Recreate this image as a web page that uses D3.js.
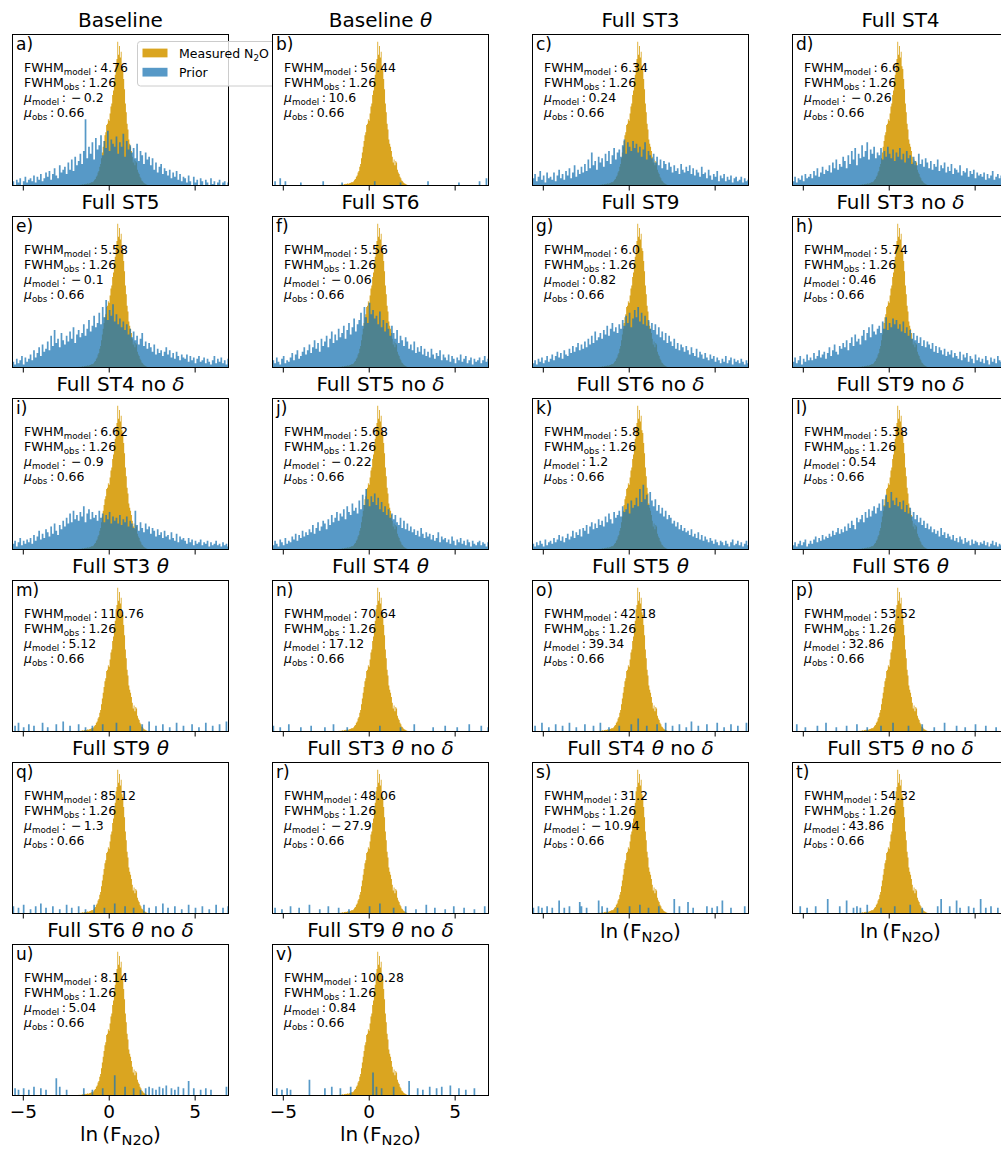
<!DOCTYPE html>
<html>
<head>
<meta charset="utf-8">
<script src="https://cdn.jsdelivr.net/npm/d3@7"></script>
<style>
  body { margin: 0; background: #fff; }
  svg { display: block; }
  text { font-family: "DejaVu Sans", sans-serif; fill: #000; }
</style>
</head>
<body>
<svg id="chart" width="1001" height="1149"></svg>
<script>
// ---- panel metadata ----
const panelTitles = ["Baseline", "Baseline θ", "Full ST3", "Full ST4",
  "Full ST5", "Full ST6", "Full ST9", "Full ST3 no δ",
  "Full ST4 no δ", "Full ST5 no δ", "Full ST6 no δ", "Full ST9 no δ",
  "Full ST3 θ", "Full ST4 θ", "Full ST5 θ", "Full ST6 θ",
  "Full ST9 θ", "Full ST3 θ no δ", "Full ST4 θ no δ", "Full ST5 θ no δ",
  "Full ST6 θ no δ", "Full ST9 θ no δ"];
const panelLetters = ["a", "b", "c", "d", "e", "f", "g", "h", "i", "j", "k", "l",
  "m", "n", "o", "p", "q", "r", "s", "t", "u", "v"];
const fwhmModel = [4.76, 56.44, 6.34, 6.6, 5.58, 5.56, 6.0, 5.74, 6.62, 5.68, 5.8, 5.38,
  110.76, 70.64, 42.18, 53.52, 85.12, 48.06, 31.2, 54.32, 8.14, 100.28];
const muModel = [-0.2, 10.6, 0.24, -0.26, -0.1, -0.06, 0.82, 0.46, -0.9, -0.22, 1.2, 0.54,
  5.12, 17.12, 39.34, 32.86, -1.3, -27.9, -10.94, 43.86, 5.04, 0.84];
const fwhmObs = 1.26;
const muObs = 0.66;
const xTicks = [-5, 0, 5];
const legendLabels = ["Measured N₂O", "Prior"];

// ---- measured ln(F_N2O) histogram (same in every panel), bin width 0.05 from -1.8 ----
const measuredStart = -1.8, measuredWidth = 0.05;
const measured = [
  0.3, 0.5, 0.3, 0.6, 0.5, 0.8, 0.6, 1, 0.8, 1.2,
  1, 1.5, 1.2, 1.6, 1.8, 2, 2.5, 2.2, 3, 4,
  4.5, 6, 7, 9, 10, 13, 15, 19, 23, 27,
  31, 35, 37, 42, 43, 46, 45, 50, 55, 57,
  63, 66, 73, 77, 85, 88, 100, 91, 97, 89,
  93, 83, 81, 74, 67, 57, 51, 43, 39, 32,
  29, 27, 24, 20, 16, 18, 14, 17, 16, 11,
  9, 8, 6, 5, 3.5, 3, 2, 1.5, 1.2, 0.8,
  0.5, 0.3];

// ---- prior histograms, bin width 0.1 from -5.6 ----
const priorStart = -5.6, priorWidth = 0.1;
const priorBaseline = [
  3,0,4,2,5,0,3,6,2,4, 5,3,7,2,6,4,8,3,5,9, 6,10,4,8,12,7,5,14,9,11,
  13,8,16,11,18,10,20,14,17,22, 15,24,46,19,27,22,30,18,33,25, 28,35,21,31,26,38,24,32,29,27,
  34,22,30,27,36,20,31,25,28,23, 26,19,29,17,24,21,15,23,18,20, 14,19,11,16,9,13,15,8,12,10,
  7,11,5,9,6,10,4,8,3,6, 5,2,7,3,0,6,2,4,0,5, 3,0,4,2,0,5,1,3,0,2, 4,0,2,3,0,2];
const priorST3 = [
  5,8,3,6,10,4,7,2,9,5, 6,4,9,3,7,11,5,8,4,10, 7,12,5,9,14,6,11,8,13,9,
  15,10,18,12,23,14,17,11,20,16, 19,13,22,17,24,15,21,26,18,23, 25,20,28,32,22,30,27,24,31,26,
  29,23,27,20,25,30,18,24,21,19, 22,16,20,14,18,12,17,15,11,16, 13,9,14,10,12,8,15,11,9,13,
  10,14,8,12,7,11,9,6,13,8, 9,5,11,7,4,8,6,10,3,7, 5,8,3,6,4,7,2,5,6,3, 4,6,2,5,3,4];
const priorST4 = [
  3,6,2,5,4,7,3,8,5,6, 8,5,10,7,12,6,9,13,8,11, 10,14,9,16,12,18,11,15,13,20,
  17,12,21,15,24,18,26,14,22,19, 28,20,24,30,18,25,22,27,19,23, 21,26,18,24,20,27,22,19,25,17,
  23,20,26,18,22,16,24,19,21,15, 20,17,14,22,15,18,13,19,16,12, 17,11,15,13,18,10,14,12,16,9,
  13,10,15,8,12,11,9,14,7,10, 9,12,6,10,8,11,5,9,7,8, 6,9,4,8,5,7,10,4,6,8, 5,7,4,6,5,8];
const priorST5 = [
  4,2,6,3,5,8,2,7,4,6, 9,5,12,7,10,14,8,16,11,13, 18,12,22,15,26,17,20,14,24,19,
  16,22,18,25,20,28,17,23,26,21, 24,30,22,27,33,25,29,36,28,31, 38,30,42,35,47,33,40,36,44,32,
  37,30,34,28,32,26,30,23,27,21, 25,19,22,16,20,24,15,18,13,17, 14,11,16,9,13,10,12,8,11,14,
  9,12,7,10,6,11,8,5,9,7, 6,9,4,8,5,7,3,6,8,4, 5,7,3,6,4,2,5,8,3,6, 4,7,3,5,2,6];
const priorST6 = [
  5,3,7,4,2,6,8,3,5,4, 7,10,5,9,12,6,8,11,14,9, 12,16,10,14,19,13,17,11,20,15,
  18,22,14,20,25,17,23,19,27,21, 24,29,20,26,31,23,28,34,25,30, 33,38,29,42,35,31,45,37,40,34,
  36,30,39,28,33,25,31,27,22,29, 24,20,26,17,22,19,15,21,18,13, 16,12,18,10,14,11,15,9,13,8,
  11,7,13,9,6,10,8,12,5,9, 7,5,9,4,8,6,3,7,5,9, 4,6,8,3,5,7,2,6,4,5, 7,3,5,8,4,6];
const priorST9 = [
  3,5,2,6,4,7,3,5,8,4, 6,9,5,8,11,7,10,6,12,9, 8,13,10,15,11,14,17,12,16,13,
  18,14,20,16,22,17,25,19,21,24, 20,26,23,29,22,27,31,25,28,24, 30,27,33,29,36,31,38,28,34,40,
  35,42,32,38,30,36,29,33,27,31, 26,30,23,28,21,25,19,24,17,22, 18,15,20,13,17,12,16,14,11,15,
  12,9,14,10,8,13,7,11,9,6, 10,7,5,9,6,8,4,7,5,3, 6,4,8,3,5,7,2,6,4,5, 3,6,4,2,5,3];
const priorST3noD = [
  4,7,3,5,8,2,6,4,9,5, 7,5,10,6,8,12,7,9,11,6, 10,14,8,12,16,11,9,15,13,17,
  14,19,12,17,21,15,23,18,20,16, 22,26,19,24,28,21,30,25,23,27, 29,24,32,27,35,26,31,28,34,30,
  33,27,30,25,32,24,28,22,26,20, 24,19,22,17,21,15,19,14,18,16, 13,17,11,15,10,14,12,9,13,8,
  11,9,12,7,10,8,6,11,5,9, 7,10,4,8,6,3,9,5,7,4, 6,3,8,5,2,7,4,6,3,8, 5,4,7,3,6,4];
const priorST4noD = [
  4,6,2,5,8,3,6,4,7,5, 8,4,10,6,9,13,7,11,8,14, 12,9,16,11,18,13,10,17,14,20,
  16,22,18,25,19,27,21,24,20,26, 23,30,19,25,28,21,26,22,24,20, 27,22,25,19,24,21,26,18,23,20,
  22,18,24,17,21,19,23,16,20,18, 15,27,17,13,19,15,12,18,14,16, 11,15,13,9,14,10,12,8,13,9,
  10,7,12,8,6,11,5,9,7,8, 6,4,8,5,7,3,6,4,5,7, 3,5,4,6,2,5,3,4,6,3, 4,2,5,3,4,2];
const priorST5noD = [
  3,6,4,2,7,5,3,8,4,6, 5,9,7,11,6,10,8,13,9,12, 10,14,12,17,11,15,19,13,16,20,
  18,14,21,17,24,19,22,26,20,25, 23,28,21,30,26,24,32,27,29,25, 34,28,38,31,42,35,30,37,33,39,
  31,36,28,33,26,30,24,28,22,25, 21,24,19,17,22,15,20,14,18,13, 16,12,14,10,13,9,15,11,8,12,
  9,11,7,10,6,8,12,5,9,7, 8,5,7,4,9,6,3,7,5,8, 4,6,3,7,5,2,6,4,3,5, 6,3,5,4,2,5];
const priorST6noD = [
  4,2,5,3,6,4,2,7,3,5, 6,4,8,5,7,10,6,9,5,8, 11,7,9,13,8,12,10,14,9,15,
  13,17,11,16,19,14,18,15,21,17, 20,16,23,19,25,21,18,26,22,24, 27,23,30,26,28,32,25,34,29,31,
  36,30,42,33,45,35,38,31,40,34, 30,35,27,31,25,29,23,27,21,24, 22,18,20,16,19,14,17,13,15,12,
  13,10,14,9,11,8,12,7,10,6, 9,7,5,8,6,4,7,5,3,6, 5,3,6,4,2,5,7,3,4,6, 3,5,2,4,6,3];
const priorST9noD = [
  3,5,2,4,6,3,5,7,2,4, 6,4,7,9,5,8,6,10,7,9, 8,11,9,13,10,12,15,11,14,12,
  16,13,18,15,20,17,14,22,19,21, 24,19,26,22,28,23,27,30,25,29, 32,27,35,30,38,33,29,40,34,31,
  36,30,33,28,34,26,31,25,29,23, 26,21,24,19,22,17,20,15,18,14, 16,12,14,11,13,9,15,10,12,8,
  11,9,7,10,6,8,5,9,7,4, 8,5,6,3,7,4,6,5,3,5, 4,6,3,5,2,4,6,3,5,2, 4,3,5,2,4,3];

// sparse priors (θ runs): [bin centre, height]
const priorBaselineTheta = [[-5.45,3],[-5.15,5],[-4.85,3],[-3.95,2],[-2.65,3],[-1.55,2],
  [0.35,3],[1.85,2],[3.45,3],[5.25,2],[6.45,3],[6.85,5]];
const priorST3Theta = [[-5.45,4],[-5.25,6],[-4.95,3],[-4.65,5],[-4.35,4],[-3.85,6],[-3.55,3],
  [-3.05,5],[-2.65,7],[-2.25,4],[-1.75,5],[-1.35,3],[-0.95,4],[-0.35,5],[0.45,6],[1.25,4],
  [1.95,5],[2.35,7],[2.75,4],[3.15,5],[3.55,3],[3.95,6],[4.35,4],[4.85,5],[5.25,3],[5.65,6],
  [6.05,4],[6.45,5],[6.85,7]];
const priorST4Theta = [[-5.55,4],[-5.15,3],[-4.65,5],[-3.95,3],[-3.35,4],[-2.55,3],[-2.05,5],
  [-1.25,3],[0.65,4],[1.85,3],[2.65,5],[3.75,3],[4.45,4],[5.15,3],[5.85,5],[6.55,4],[6.95,3]];
const priorST5Theta = [[-5.45,4],[-5.05,6],[-4.65,3],[-4.25,5],[-3.85,4],[-3.45,6],[-3.05,3],
  [-2.55,5],[-2.05,4],[-1.65,6],[-1.15,3],[-0.55,4],[0.15,5],[0.55,9],[1.05,4],[1.65,5],
  [2.15,6],[2.55,4],[2.95,5],[3.35,3],[3.65,7],[4.05,4],[4.55,5],[5.15,6],[5.55,3],[5.95,5],
  [6.35,4],[6.85,6]];
const priorST6Theta = [[-5.35,5],[-4.85,3],[-4.15,4],[-3.65,6],[-3.05,3],[-2.45,4],[-1.85,5],
  [-1.25,3],[-0.45,4],[0.25,6],[1.15,4],[1.95,5],[2.65,3],[3.25,6],[3.95,4],[4.45,3],[5.05,5],
  [5.65,4],[6.25,3],[6.85,5]];
const priorST9Theta = [[-5.55,5],[-5.25,4],[-4.95,6],[-4.55,3],[-4.25,5],[-3.95,7],[-3.65,4],
  [-3.25,5],[-2.85,3],[-2.45,6],[-2.15,4],[-1.75,5],[-1.35,3],[-0.85,6],[-0.25,4],[0.35,7],
  [0.95,5],[1.45,4],[2.05,6],[2.35,4],[2.75,5],[3.15,7],[3.45,4],[3.85,5],[4.25,3],[4.65,6],
  [5.05,4],[5.45,5],[5.85,3],[6.25,6],[6.65,4],[6.95,5]];
const priorST3ThetaNoD = [[-5.45,4],[-5.05,3],[-4.55,5],[-4.05,4],[-3.45,6],[-2.85,3],[-2.35,5],
  [-1.75,4],[-1.15,3],[0.05,5],[0.65,7],[1.45,4],[2.15,5],[2.75,3],[3.35,6],[3.85,4],[4.45,3],
  [4.95,5],[5.55,4],[6.15,3],[6.75,5]];
const priorST4ThetaNoD = [[-5.55,4],[-5.25,5],[-5.05,4],[-4.75,5],[-4.45,4],[-4.05,9],[-3.75,4],
  [-3.45,5],[-2.85,8],[-2.75,5],[-2.45,4],[-1.75,9],[-1.55,5],[-1.25,4],[-0.65,4],[0.05,5],
  [0.65,6],[1.15,4],[1.75,5],[2.65,10],[2.95,5],[3.45,8],[3.75,4],[4.55,5],[4.85,4],[5.15,5],
  [5.45,9],[5.95,4],[6.75,5]];
const priorST5ThetaNoD = [[-5.15,5],[-4.75,4],[-4.25,5],[-3.55,10],[-2.85,5],[-2.45,9],[-2.05,4],
  [-1.85,5],[-1.65,4],[-1.25,6],[-0.45,4],[0.35,5],[1.25,6],[1.95,4],[2.85,5],[3.05,10],
  [3.55,5],[3.95,9],[4.15,4],[4.65,5],[4.95,4],[5.35,10],[5.65,4],[5.95,5],[6.35,4]];
const priorST6ThetaNoD = [[-5.45,5],[-5.25,4],[-4.95,5],[-4.65,4],[-4.35,6],[-3.95,5],[-3.65,4],
  [-3.05,12],[-2.85,6],[-2.45,4],[-1.45,5],[-0.95,4],[-0.35,5],[0.35,14],[0.95,6],[1.45,5],
  [1.85,4],[2.15,5],[2.35,6],[2.55,5],[2.75,4],[2.95,6],[3.15,5],[3.35,7],[3.65,5],[3.85,4],
  [4.05,6],[4.35,5],[4.65,10],[4.95,5],[5.35,4],[5.65,5],[5.95,4],[6.85,6]];
const priorST9ThetaNoD = [[-5.35,5],[-5.05,4],[-4.75,5],[-4.55,4],[-3.45,11],[-2.55,5],[-2.15,6],
  [-1.65,5],[-1.05,6],[0.25,16],[0.45,6],[0.75,5],[1.45,6],[2.35,10],[2.85,5],[3.15,4],
  [3.55,6],[3.95,5],[4.25,6],[4.75,7],[5.25,5],[5.65,4],[6.15,5]];

const panelPriors = [priorBaseline, priorBaselineTheta, priorST3, priorST4,
  priorST5, priorST6, priorST9, priorST3noD,
  priorST4noD, priorST5noD, priorST6noD, priorST9noD,
  priorST3Theta, priorST4Theta, priorST5Theta, priorST6Theta,
  priorST9Theta, priorST3ThetaNoD, priorST4ThetaNoD, priorST5ThetaNoD,
  priorST6ThetaNoD, priorST9ThetaNoD];

// ---- drawing ----
const GOLD = "#DAA520", BLUE = "#1f77b4";
const colLeft = [12.5, 272.5, 532.5, 792.5];
const rowTop0 = 34.5, rowStep = 182, pw = 216, ph = 151;
const xDomain = [-5.6, 6.97];
const yMax = 105;

const svg = d3.select("#chart");
svg.append("rect").attr("width", 1001).attr("height", 1149).attr("fill", "#fff");

const fmtVal = v => {
  const s = Number.isInteger(v) ? Math.abs(v).toFixed(1) : String(Math.abs(v));
  return v < 0 ? "\u2009\u2212\u2009" + s : s;
};

// text with an optional subscript: parts = [[text, style], ...]
function richText(g, xPos, yPos, size, parts) {
  const t = g.append("text").attr("x", xPos).attr("y", yPos).attr("font-size", size);
  let shift = 0;
  parts.forEach(([str, kind]) => {
    const sp = t.append("tspan").text(str);
    const want = kind === "sub" ? size * 0.24 : 0;
    if (want !== shift) { sp.attr("dy", want - shift); shift = want; }
    if (kind === "sub") sp.attr("font-size", size * 0.7);
    if (kind === "it") sp.attr("font-style", "italic");
  });
  return t;
}

panelTitles.forEach((title, i) => {
  const r = Math.floor(i / 4), c = i % 4;
  const left = colLeft[c], top = rowTop0 + r * rowStep;
  const x = d3.scaleLinear().domain(xDomain).range([left, left + pw]);
  const y = d3.scaleLinear().domain([0, yMax]).range([top + ph, top]);
  const g = svg.append("g");

  g.append("rect").attr("x", left).attr("y", top).attr("width", pw).attr("height", ph).attr("fill", "#fff");
  const clipId = "clip" + i;
  g.append("clipPath").attr("id", clipId).append("rect")
    .attr("x", left).attr("y", top).attr("width", pw).attr("height", ph);
  const plot = g.append("g").attr("clip-path", `url(#${clipId})`);

  // measured histogram as a stepped area
  const pts = [];
  measured.forEach((h, k) => {
    const x0 = measuredStart + k * measuredWidth;
    pts.push([x0, h], [x0 + measuredWidth, h]);
  });
  plot.append("path").datum(pts)
    .attr("d", d3.area().x(d => x(d[0])).y0(y(0)).y1(d => y(d[1])))
    .attr("fill", GOLD);

  // prior histogram: all bars in one path so neighbouring bars blend without seams
  const prior = panelPriors[i];
  const bars = Array.isArray(prior[0])
    ? prior.map(([cx, h]) => ({ x0: cx - priorWidth / 2, h }))
    : prior.map((h, k) => ({ x0: priorStart + k * priorWidth, h }));
  const barPath = d3.path();
  bars.filter(b => b.h > 0).forEach(b => {
    barPath.rect(x(b.x0), y(b.h), x(b.x0 + priorWidth) - x(b.x0), y(0) - y(b.h));
  });
  plot.append("path").attr("d", barPath.toString())
    .attr("fill", BLUE).attr("fill-opacity", 0.75);

  // frame
  g.append("rect").attr("x", left).attr("y", top).attr("width", pw).attr("height", ph)
    .attr("fill", "none").attr("stroke", "#000").attr("stroke-width", 1);

  // x axis
  const bottomRow = r === 5;
  const axis = d3.axisBottom(x).tickValues(xTicks).tickSize(5).tickPadding(4)
    .tickFormat(bottomRow ? d3.format("d") : () => "");
  const ag = g.append("g").attr("transform", `translate(0,${top + ph})`).call(axis);
  ag.select(".domain").remove();
  ag.attr("font-family", "DejaVu Sans").attr("font-size", 18.5);
  ag.selectAll("line").attr("stroke", "#000");
  ag.selectAll("text").attr("fill", "#000");

  if (bottomRow || (r === 4 && c >= 2)) {
    const lbl = g.append("text").attr("x", left + pw / 2).attr("y", top + ph + (bottomRow ? 45.5 : 24.5))
      .attr("text-anchor", "middle").attr("font-size", 20);
    lbl.append("tspan").text("ln");
    lbl.append("tspan").attr("dx", 4).text("(F");
    lbl.append("tspan").attr("font-size", 14.5).attr("dy", 4).text("N2O");
    lbl.append("tspan").attr("dy", -4).text(")");
  }

  // title
  const tt = g.append("text").attr("x", left + pw / 2).attr("y", top - 7.5)
    .attr("text-anchor", "middle").attr("font-size", 20);
  title.split(/([θδ])/).filter(s => s.length).forEach(s => {
    const sp = tt.append("tspan").text(s);
    if (s === "θ" || s === "δ") sp.attr("font-style", "italic");
  });

  // panel letter
  g.append("text").attr("x", left + 3.5).attr("y", top + 15.5).attr("font-size", 17)
    .text(panelLetters[i] + ")");

  // statistics
  const ax = left + 11.5, fs = 12.5;
  richText(g, ax, top + 37.5, fs, [["FWHM"], ["model", "sub"], ["\u2009:\u2009" + fmtVal(fwhmModel[i])]]);
  richText(g, ax, top + 52.5, fs, [["FWHM"], ["obs", "sub"], ["\u2009:\u2009" + fmtVal(fwhmObs)]]);
  richText(g, ax, top + 67.5, fs, [["μ", "it"], ["model", "sub"], ["\u2009:\u2009" + fmtVal(muModel[i])]]);
  richText(g, ax, top + 82.5, fs, [["μ", "it"], ["obs", "sub"], ["\u2009:\u2009" + fmtVal(muObs)]]);

  // legend lives in the first panel
  if (i === 0) {
    const lg = g.append("g");
    lg.append("rect").attr("x", 137.5).attr("y", 41.5).attr("width", 142).attr("height", 44.5)
      .attr("rx", 3).attr("fill", "#fff").attr("fill-opacity", 0.8)
      .attr("stroke", "#ccc").attr("stroke-width", 1);
    [GOLD, BLUE].forEach((col, k) => {
      lg.append("rect").attr("x", 142.5).attr("y", 48.6 + k * 19.2).attr("width", 25).attr("height", 8.75)
        .attr("fill", col).attr("fill-opacity", k === 1 ? 0.75 : 1);
    });
    const t1 = lg.append("text").attr("x", 179).attr("y", 58).attr("font-size", 12.5);
    t1.append("tspan").text("Measured N");
    t1.append("tspan").attr("font-size", 8.75).attr("dy", 3).text("2");
    t1.append("tspan").attr("dy", -3).text("O");
    lg.append("text").attr("x", 179).attr("y", 77.2).attr("font-size", 12.5).text(legendLabels[1]);
  }
});
</script>
</body>
</html>
